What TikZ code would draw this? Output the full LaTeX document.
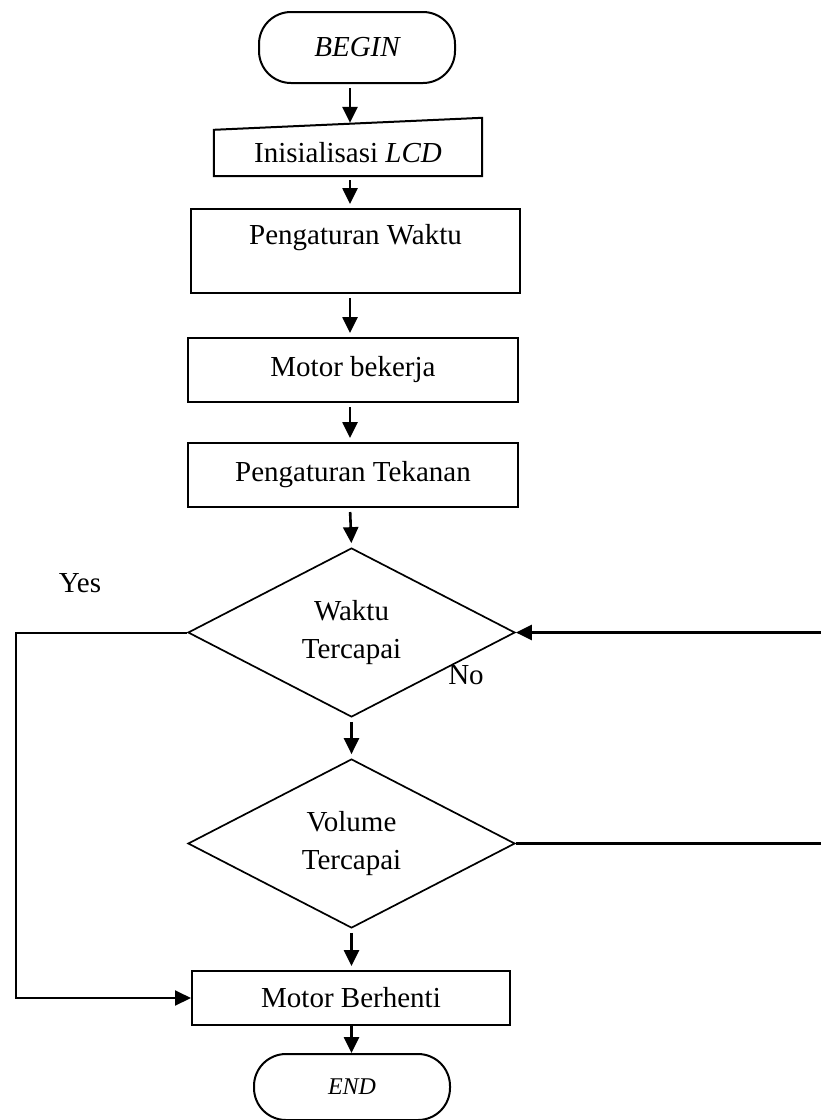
\documentclass[tikz,border=0pt]{standalone}
\usepackage{fontspec}
\setmainfont{Liberation Serif}
\usetikzlibrary{shapes.geometric,arrows.meta,calc}
\begin{document}
\begin{tikzpicture}[x=1pt,y=-1pt,
  every node/.style={font=\fontsize{29}{38}\selectfont, inner sep=0pt},
  box/.style={draw, line width=2pt, rectangle},
  term/.style={draw, line width=2pt, rounded corners=32pt, minimum width=196pt},
  dec/.style={draw, line width=1.7pt, diamond, aspect=1.93, minimum width=327pt, minimum height=169pt, align=center},
  arr/.style={line width=2.6pt, -{Triangle[length=16pt,width=15pt]}, shorten <=4pt, shorten >=4pt},
  side/.style={line width=2pt, -{Triangle[length=16pt,width=15pt]}},
  lbl/.style={}]
\useasboundingbox (0,0) rectangle (820,1120);
\coordinate (ax) at (350,0);
\coordinate (yl) at (16,0);
\coordinate (rr) at (828,0);

\node[term, minimum height=71pt] (begin) at (357,47.5) {\itshape BEGIN};
\node[minimum width=268pt, minimum height=46pt] (lcd) at (348,153) {Inisialisasi \textit{LCD}};
\draw[line width=2pt] (lcd.south west) -- (lcd.south east) -- ($(lcd.north east)+(0,-12)$) -- (lcd.north west) -- cycle;
\node[box, minimum width=329pt, minimum height=84pt,
      label={[anchor=center, yshift=13pt]center:Pengaturan Waktu}] (pw) at (355.5,251) {};
\node[box, minimum width=330pt, minimum height=64pt] (mb) at (353,370) {Motor bekerja};
\node[box, minimum width=330pt, minimum height=64pt] (pt) at (353,475) {Pengaturan Tekanan};
\node[dec] (d1) at (351.5,632.5) {Waktu\\Tercapai};
\node[dec] (d2) at (351.5,843.5) {Volume\\Tercapai};
\node[box, minimum width=318pt, minimum height=54pt] (mbh) at (351,998) {Motor Berhenti};
\node[term, minimum height=66pt, font=\fontsize{24}{28}\selectfont] (end) at (352,1087) {\itshape END};

\node[lbl] (yes) at (80,583) {Yes};
\node[lbl] (no) at (466,675) {No};

\draw[arr, shorten >=7pt] (ax |- begin.south) -- (ax |- lcd.north);
\draw[arr] (ax |- lcd.south) -- (ax |- pw.north);
\draw[arr] (ax |- pw.south) -- (ax |- mb.north);
\draw[arr] (ax |- mb.south) -- (ax |- pt.north);
\draw[arr] (ax |- pt.south) -- (d1.north);
\draw[arr] (d1.south) -- (d2.north);
\draw[arr] (d2.south) -- (d2.south |- mbh.north);
\draw[arr, shorten <=0pt, shorten >=0pt] (d2.south |- mbh.south) -- (d2.south |- end.north);

\draw[side] (d1.west) -- (d1.west -| yl) |- (mbh.west);
\draw[side, line width=2.6pt] (d2.east) -- (d2.east -| rr) |- (d1.east);
\end{tikzpicture}
\end{document}
